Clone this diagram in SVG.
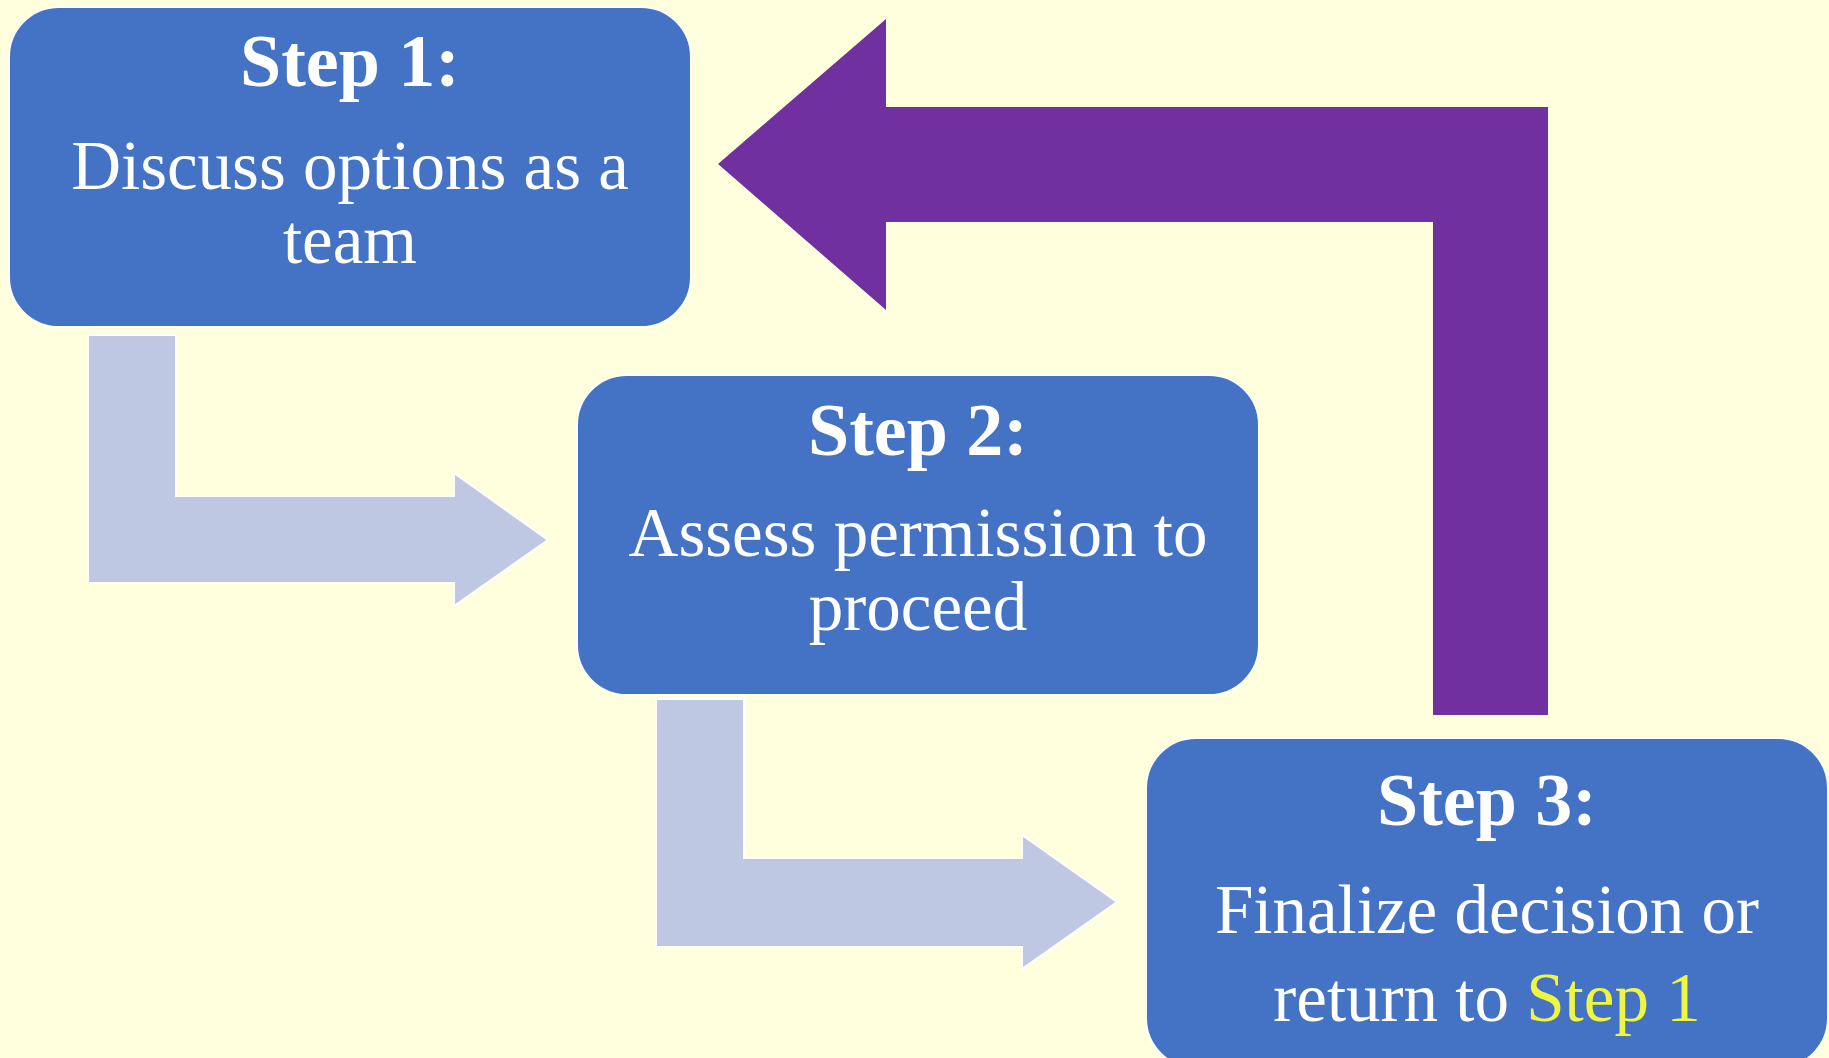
<svg xmlns="http://www.w3.org/2000/svg" width="1829" height="1058" viewBox="0 0 1829 1058">
  <style>
    .box { fill: #4472C4; stroke: #FFFFFF; stroke-width: 2; }
    .flow { fill: #BEC8E3; stroke: #FFFFFF; stroke-width: 2; stroke-linejoin: miter; }
    .back { fill: #7030A0; }
    .title { font-family: "Liberation Serif", "Times New Roman", serif; font-weight: bold; font-size: 74px; fill: #FFFFFF; text-anchor: middle; }
    .body { font-family: "Liberation Serif", "Times New Roman", serif; font-size: 69px; fill: #FFFFFF; text-anchor: middle; }
    .hl { fill: #EEF542; }
  </style>
  <rect x="0" y="0" width="1829" height="1058" fill="#FFFFDE"/>

  <g id="connectors">
    <polygon class="back" points="718,164 886,19 886,107 1548,107 1548,715 1433,715 1433,222 886,222 886,310"/>
    <polygon class="flow" points="88,335 176,335 176,496 454,496 454,473 548,540 454,606 454,583 88,583"/>
    <polygon class="flow" points="656,699 744,699 744,858 1022,858 1022,835 1117,902 1022,969 1022,947 656,947"/>
  </g>

  <g id="step1">
    <rect class="box" x="9" y="7" width="682" height="320" rx="50" ry="50"/>
    <text class="title" x="350" y="86">Step 1:</text>
    <text class="body" x="350" y="189">Discuss options as a</text>
    <text class="body" x="350" y="263">team</text>
  </g>

  <g id="step2">
    <rect class="box" x="577" y="375" width="682" height="320" rx="50" ry="50"/>
    <text class="title" x="918" y="455">Step 2:</text>
    <text class="body" x="918" y="556">Assess permission to</text>
    <text class="body" x="918" y="630">proceed</text>
  </g>

  <g id="step3">
    <rect class="box" x="1146" y="738" width="682" height="330" rx="50" ry="50"/>
    <text class="title" x="1487" y="825">Step 3:</text>
    <text class="body" x="1487" y="933">Finalize decision or</text>
    <text class="body" x="1487" y="1021">return to <tspan class="hl">Step 1</tspan></text>
  </g>
</svg>
